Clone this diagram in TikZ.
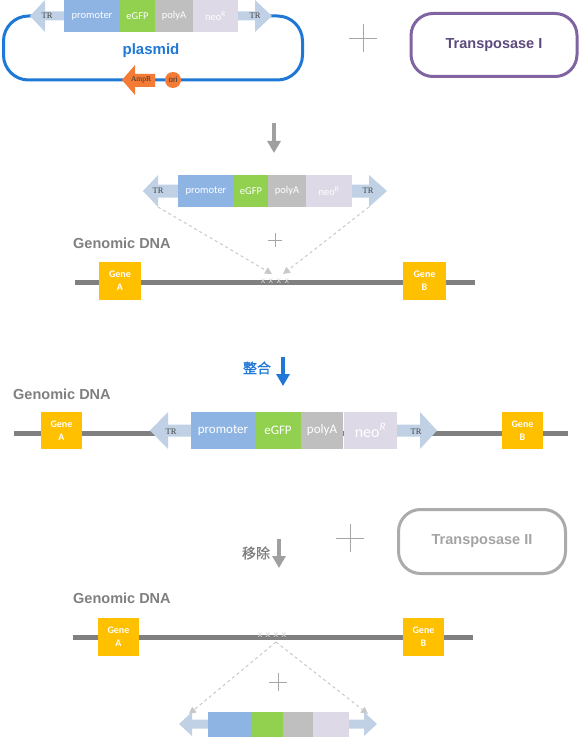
\documentclass[tikz,border=0pt]{standalone}
\usepackage{fontspec}
\setmainfont{Liberation Sans}
\newfontfamily\calib{Carlito}
\newfontfamily\tms{Liberation Serif}
\newfontfamily\cjk{Noto Sans CJK SC}[FakeBold=1]
\usetikzlibrary{arrows.meta}
\definecolor{promoC}{HTML}{8EB4E3}
\definecolor{gfpC}{HTML}{92D050}
\definecolor{polyC}{HTML}{BFBFBF}
\definecolor{neoC}{HTML}{DDD9E7}
\definecolor{trC}{HTML}{C0D1E5}
\definecolor{geneC}{HTML}{FFC000}
\definecolor{dnaC}{HTML}{808080}
\definecolor{blueC}{HTML}{1F78D6}
\definecolor{orangeC}{HTML}{F47B35}
\definecolor{purpleC}{HTML}{8064A2}
\definecolor{purpleT}{HTML}{5C4A7D}
\definecolor{grayBox}{HTML}{ABABAB}
\definecolor{grayT}{HTML}{A3A3A3}
\definecolor{labelC}{HTML}{7F7F7F}
\definecolor{arrowC}{HTML}{A0A0A0}
\definecolor{dashC}{HTML}{C8C8C8}
\definecolor{plusC}{HTML}{A6A6A6}
% #1 tip x, #2 head base x, #3 shaft end x, #4 centre y, #5 head half height, #6 shaft half height
\newcommand\trarrow[6]{\fill[trC] (#3,#4-#6) -- (#2,#4-#6) -- (#2,#4-#5) -- (#1,#4) -- (#2,#4+#5) -- (#2,#4+#6) -- (#3,#4+#6) -- cycle;}
\newcommand\plussign[3]{\draw[plusC, line width=0.9pt] (#1-#3,#2) -- (#1+#3,#2) (#1,#2-#3) -- (#1,#2+#3);}
\newcommand\xsites{x\hspace{3.5pt}x\hspace{3.5pt}x\hspace{3.5pt}x}
\begin{document}
\begin{tikzpicture}[x=1pt,y=-1pt,
  seg/.style={anchor=west, inner sep=0pt, outer sep=0pt, text=white},
  segA/.style={seg, minimum height=32pt, font=\calib\fontsize{10.5}{12}\selectfont},
  segC/.style={seg, minimum height=37pt, font=\calib\fontsize{13}{15}\selectfont},
  segE/.style={seg, minimum height=25pt},
  trtext/.style={font=\tms\fontsize{8.5}{9}\selectfont, text=black!75, inner sep=0pt},
  gene/.style={fill=geneC, text=white, inner sep=0pt, align=center, font=\calib\bfseries\fontsize{10}{13}\selectfont},
  dna/.style={draw=dnaC, line width=5pt},
  glabel/.style={anchor=west, inner sep=0pt, text=labelC, font=\bfseries\fontsize{14.5}{16}\selectfont},
  xsite/.style={inner sep=0pt, text=white!85!black, font=\fontsize{9}{10}\selectfont},
  bigarrow/.style={line width=4pt, -{Triangle[width=13pt,length=12pt]}},
  dasharrow/.style={draw=dashC, dashed, line width=1pt, -{Triangle[width=7pt,length=7pt]}},
  enzyme/.style={rounded corners=22pt, line width=3pt, minimum width=166pt, minimum height=63pt, font=\bfseries\fontsize{14.5}{16}\selectfont}
]
\useasboundingbox (0,0) rectangle (579,738);

% ---------------- Section 1: plasmid ----------------
\draw[blueC, line width=3pt, rounded corners=25pt] (3.5,16) rectangle (302.5,80);
\trarrow{30}{45}{64}{16}{16}{4.5}
\trarrow{272}{255}{238}{16}{16}{4.5}
\node[segA, fill=promoC, minimum width=56pt] (p1) at (64,16) {promoter};
\node[segA, fill=gfpC, minimum width=35pt] (g1) at (p1.east) {eGFP};
\node[segA, fill=polyC, minimum width=38pt] (a1) at (g1.east) {polyA};
\node[segA, fill=neoC, minimum width=45pt] (n1) at (a1.east) {neo\textsuperscript{R}};
\node[trtext] (tr1l) at (47,16) {TR};
\node[trtext] (tr1r) at (255,16) {TR};
\node[text=blueC, font=\bfseries\fontsize{15}{17}\selectfont, inner sep=0pt] (plasmid) at (151,51) {plasmid};
\fill[orangeC] (155,74) -- (135,74) -- (135,65) -- (122,80) -- (135,95) -- (135,87) -- (155,87) -- cycle;
\node[font=\tms\fontsize{7.5}{8}\selectfont, text=black!80, inner sep=0pt] (ampr) at (141,80) {AmpR};
\node[circle, fill=orangeC, minimum size=16pt, inner sep=0pt, font=\fontsize{8}{9}\selectfont, text=black!80] (ori) at (173,80) {ori};
\plussign{363}{38}{14}
\node[enzyme, draw=purpleC, text=purpleT] (tp1) at (494,45) {Transposase I};

% arrow 1
\coordinate (ar1s) at (274,123);
\coordinate (ar1e) at (274,153);
\draw[bigarrow, arrowC] (ar1s) -- (ar1e);

% ---------------- Section 2: insertion ----------------
\trarrow{143}{158}{178}{191}{16}{6.5}
\trarrow{387}{369}{352}{191}{16}{6.5}
\node[segA, fill=promoC, minimum width=56pt] (p2) at (178,191) {promoter};
\node[segA, fill=gfpC, minimum width=34pt] (g2) at (p2.east) {eGFP};
\node[segA, fill=polyC, minimum width=38pt] (a2) at (g2.east) {polyA};
\node[segA, fill=neoC, minimum width=46pt] (n2) at (a2.east) {neo\textsuperscript{R}};
\node[trtext] (tr2l) at (158,191) {TR};
\node[trtext] (tr2r) at (368,191) {TR};
\coordinate (d2ls) at (158,207);
\coordinate (d2le) at (272,274);
\coordinate (d2rs) at (369,207);
\coordinate (d2re) at (283,274);
\draw[dasharrow] (d2ls) -- (d2le);
\draw[dasharrow] (d2rs) -- (d2re);
\plussign{275}{240}{7}
\node[glabel] (gdna2) at (73,243) {Genomic DNA};
\coordinate (dna2s) at (75,282);
\coordinate (dna2e) at (475,282);
\draw[dna] (dna2s) -- (dna2e);
\node[gene, minimum width=42pt, minimum height=38pt] (gA2) at (120,281) {Gene\\A};
\node[gene, minimum width=43pt, minimum height=38pt] (gB2) at (424.5,281) {Gene\\B};
\node[xsite] (x2) at (275,281.5) {\xsites};

% arrow 2 (integration)
\node[text=blueC, font=\cjk\fontsize{14}{16}\selectfont, inner sep=0pt] (zh) at (257,368) {整合};
\coordinate (ar2s) at (283,357);
\coordinate (ar2e) at (283,386);
\draw[bigarrow, blueC] (ar2s) -- (ar2e);

% ---------------- Section 3: integrated ----------------
\node[glabel] (gdna3) at (13,394) {Genomic DNA};
\coordinate (dna3s) at (14,433);
\coordinate (dna3e) at (568,433);
\draw[dna] (dna3s) -- (dna3e);
\node[gene, minimum width=41pt, minimum height=37pt] (gA3) at (61.5,430.5) {Gene\\A};
\node[gene, minimum width=41pt, minimum height=37pt] (gB3) at (522.5,430.5) {Gene\\B};
\trarrow{150}{168}{191}{430.5}{18.5}{6}
\trarrow{437}{420}{396}{430.5}{18.5}{6}
\node[segC, fill=promoC, minimum width=64pt] (p3) at (191,430.5) {promoter};
\node[segC, fill=gfpC, minimum width=46pt] (g3) at (p3.east) {eGFP};
\node[segC, fill=polyC, minimum width=42pt] (a3) at (g3.east) {polyA};
\node[segC, fill=neoC, minimum width=53pt, font=\calib\fontsize{16}{18}\selectfont] (n3) at ([xshift=1pt]a3.east) {neo\textsuperscript{\itshape R}};
\node[trtext] (tr3l) at (171,432) {TR};
\node[trtext] (tr3r) at (416,432) {TR};

% arrow 3 (removal)
\node[text=labelC, font=\cjk\fontsize{14}{16}\selectfont, inner sep=0pt] (yc) at (256,553) {移除};
\coordinate (ar3s) at (279,539);
\coordinate (ar3e) at (279,568);
\draw[bigarrow, arrowC] (ar3s) -- (ar3e);
\plussign{350}{538}{14}
\node[enzyme, draw=grayBox, text=grayT, minimum width=167pt, minimum height=64pt] (tp2) at (482,541.5) {Transposase II};

% ---------------- Section 4: after excision ----------------
\node[glabel] (gdna4) at (73,598) {Genomic DNA};
\coordinate (dna4s) at (73,637);
\coordinate (dna4e) at (473,637);
\draw[dna] (dna4s) -- (dna4e);
\node[gene, minimum width=41pt, minimum height=38pt] (gA4) at (118.5,637) {Gene\\A};
\node[gene, minimum width=41pt, minimum height=38pt] (gB4) at (423.5,637) {Gene\\B};
\node[xsite] (x4) at (272,635.5) {\xsites};
\coordinate (d4s) at (276,642);
\coordinate (d4le) at (189,714);
\coordinate (d4re) at (368,714);
\draw[dasharrow] (d4s) -- (d4le);
\draw[dasharrow] (d4s) -- (d4re);
\plussign{278}{682}{9}

% excised cassette
\trarrow{179}{192}{208}{724}{12}{4.5}
\trarrow{377}{364}{349}{724}{12}{4.5}
\node[segE, fill=promoC, minimum width=44pt] (p5) at (208,724.5) {};
\node[segE, fill=gfpC, minimum width=31pt] (g5) at (p5.east) {};
\node[segE, fill=polyC, minimum width=30pt] (a5) at (g5.east) {};
\node[segE, fill=neoC, minimum width=36pt] (n5) at (a5.east) {};
\end{tikzpicture}
\end{document}
